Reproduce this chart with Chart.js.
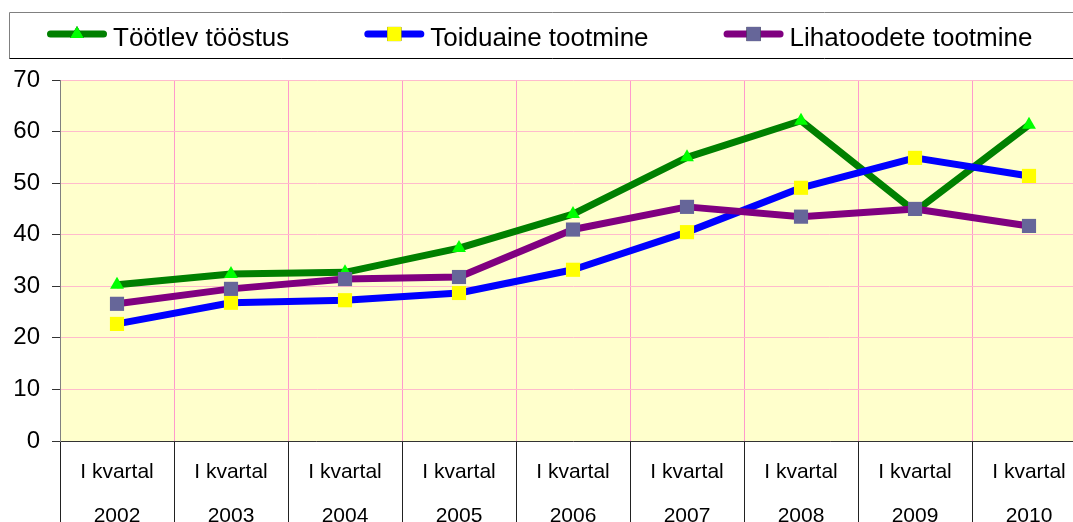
<!DOCTYPE html>
<html>
<head>
<meta charset="utf-8">
<script src="https://cdn.jsdelivr.net/npm/chart.js@4"></script>
<style>
    html, body { margin: 0; padding: 0; background: #fff; overflow: hidden; }
    #wrap { width: 1096px; height: 540px; }
</style>
</head>
<body>
<div id="wrap"><canvas id="chart" width="1096" height="540"></canvas></div>
<script>
// andmed
const years = ['2002', '2003', '2004', '2005', '2006', '2007', '2008', '2009', '2010'];
const quarter = 'I kvartal';
const tootlevToostus = [30.3, 32.4, 32.7, 37.4, 44.0, 55.0, 62.1, 44.5, 61.3];
const toiduaineTootmine = [22.7, 26.8, 27.3, 28.7, 33.2, 40.5, 49.1, 54.9, 51.4];
const lihatoodeteTootmine = [26.6, 29.5, 31.4, 31.8, 41.0, 45.4, 43.5, 45.0, 41.7];
const yTicks = [0, 10, 20, 30, 40, 50, 60, 70];

const FONT = '"Liberation Sans", Arial, sans-serif';

// kollane taust joonise alal
const plotBackground = {
    id: 'plotBackground',
    beforeDraw(chart) {
        const a = chart.chartArea;
        const ctx = chart.ctx;
        ctx.save();
        ctx.fillStyle = '#ffffcc';
        ctx.fillRect(a.left, a.top, a.right - a.left, a.bottom - a.top);
        ctx.restore();
    }
};

// legend raamiga, nagu Excelis
const boxLegend = {
    id: 'boxLegend',
    afterDraw(chart) {
        const ctx = chart.ctx;
        ctx.save();
        ctx.lineWidth = 1;
        ctx.strokeStyle = '#808080';
        ctx.beginPath();
        ctx.moveTo(9.5, 58.5);
        ctx.lineTo(9.5, 12.5);
        ctx.lineTo(chart.width, 12.5);
        ctx.stroke();
        ctx.strokeStyle = '#000';
        ctx.beginPath();
        ctx.moveTo(9.5, 58.5);
        ctx.lineTo(chart.width, 58.5);
        ctx.stroke();

        ctx.font = '26px ' + FONT;
        ctx.textBaseline = 'alphabetic';
        ctx.textAlign = 'left';
        let x = 47;
        const y = 34;
        chart.data.datasets.forEach(function(ds) {
            ctx.strokeStyle = ds.borderColor;
            ctx.lineWidth = 7;
            ctx.lineCap = 'round';
            ctx.beginPath();
            ctx.moveTo(x + 3.5, y);
            ctx.lineTo(x + 56.5, y);
            ctx.stroke();
            Chart.helpers.drawPoint(ctx, {
                pointStyle: ds.pointStyle,
                radius: ds.pointRadius,
                borderWidth: 0,
                rotation: 0
            }, x + 30, y);
            ctx.fillStyle = ds.pointBackgroundColor;
            ctx.fill();
            ctx.fillStyle = '#000';
            ctx.fillText(ds.label, x + 66, 45.5);
            x += 66 + ctx.measureText(ds.label).width + 75;
        });
        ctx.restore();
    }
};

new Chart(document.getElementById('chart'), {
    type: 'line',
    data: {
        labels: years.map(function(y) { return [quarter, y]; }),
        datasets: [{
            label: 'Töötlev tööstus',
            data: tootlevToostus,
            borderColor: '#008000',
            pointBackgroundColor: '#00ff00',
            pointStyle: 'triangle',
            pointRadius: 8,
            order: 2
        }, {
            label: 'Toiduaine tootmine',
            data: toiduaineTootmine,
            borderColor: '#0000ff',
            pointBackgroundColor: '#ffff00',
            pointStyle: 'rect',
            pointRadius: 10,
            order: 1
        }, {
            label: 'Lihatoodete tootmine',
            data: lihatoodeteTootmine,
            borderColor: '#800080',
            pointBackgroundColor: '#666699',
            pointStyle: 'rect',
            pointRadius: 10,
            order: 0
        }]
    },
    options: {
        responsive: false,
        animation: false,
        devicePixelRatio: 1,
        layout: { padding: { top: 80, left: 0, right: 4, bottom: 0 } },
        elements: {
            line: { borderWidth: 7, tension: 0, borderJoinStyle: 'round', fill: false },
            point: { borderWidth: 0, hoverRadius: 10 }
        },
        plugins: {
            legend: { display: false },
            tooltip: { enabled: false }
        },
        scales: {
            x: {
                offset: true,
                grid: {
                    offset: true,
                    color: '#ff99cc',
                    tickColor: '#222',
                    tickLength: 90,
                    lineWidth: 1
                },
                border: { color: '#333', width: 1 },
                ticks: {
                    color: '#000',
                    padding: -81.5,
                    maxRotation: 0,
                    autoSkip: false,
                    font: { family: FONT, size: 21, lineHeight: 2.12 }
                },
                afterFit: function(scale) { scale.height = 99; }
            },
            y: {
                min: yTicks[0],
                max: yTicks[yTicks.length - 1],
                ticks: {
                    stepSize: yTicks[1] - yTicks[0],
                    color: '#000',
                    padding: 12,
                    font: { family: FONT, size: 24 }
                },
                grid: {
                    color: '#ffbbcc',
                    tickColor: '#333',
                    tickLength: 8
                },
                border: { color: '#808080', width: 1 },
                afterFit: function(scale) { scale.width = 60; }
            }
        }
    },
    plugins: [plotBackground, boxLegend]
});
</script>
</body>
</html>
